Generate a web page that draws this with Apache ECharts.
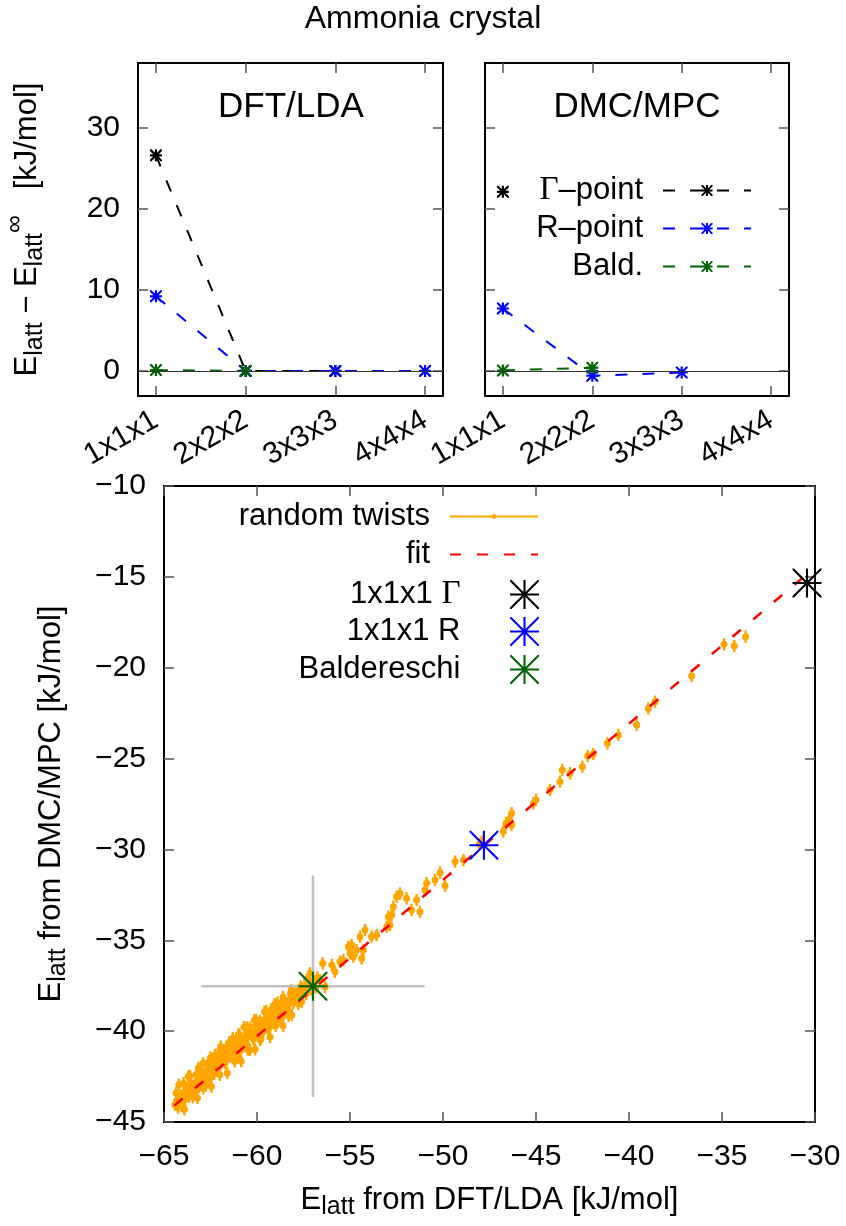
<!DOCTYPE html>
<html>
<head>
<meta charset="utf-8">
<title>Ammonia crystal</title>
<script src="https://cdn.jsdelivr.net/npm/echarts@6/dist/echarts.min.js"></script>
<style>
  html, body { margin: 0; padding: 0; background: #fff; }
  #chart { width: 846px; height: 1226px; }
</style>
</head>
<body>
<div id="chart"></div>
<script>
// Data
// ------------------------------

var cellLabels = ['1x1x1', '2x2x2', '3x3x3', '4x4x4'];
var cellIndex = [1, 2, 3, 4];
var topYTicks = [0, 10, 20, 30];

// E_latt - E_latt(inf), kJ/mol
var ldaGamma = [26.6, 0.0, 0.0];
var ldaR = [9.2, 0.0, 0.0, 0.0];
var ldaBald = [0.1, 0.0];
var mpcGamma = [22.1];
var mpcR = [7.7, -0.6, -0.2];
var mpcBald = [0.05, 0.4];

// bottom panel: [DFT/LDA, DMC/MPC]
var gammaPoint = [-30.43, -15.34];
var rPoint = [-47.8, -29.77];
var baldPoint = [-56.99, -37.53];
var baldError = [6.0, 6.1];
var fitLine = [[-64.45, -44.1], [-30.6, -15.0]];
var twistError = 0.34;
var twistPoints = [
    [-33.73, -18.29], [-34.34, -18.81], [-34.89, -18.71], [-36.63, -20.46], [-38.60, -21.87],
    [-38.96, -22.24], [-39.59, -23.15], [-40.57, -23.70], [-41.16, -24.16], [-41.92, -24.75],
    [-42.22, -24.86], [-42.51, -25.45], [-43.17, -25.81], [-43.59, -25.63], [-43.71, -26.27],
    [-44.25, -26.73], [-45.00, -27.28], [-45.14, -27.46], [-46.31, -28.01], [-46.31, -28.66],
    [-46.61, -28.56], [-46.76, -29.02], [-46.45, -28.35], [-47.92, -29.57], [-48.05, -29.70],
    [-48.90, -30.58], [-49.35, -30.67], [-49.89, -32.00], [-50.16, -31.28], [-50.43, -31.68],
    [-50.88, -31.86], [-50.97, -32.23], [-51.24, -33.43], [-51.42, -32.78], [-51.69, -33.33],
    [-51.96, -32.69], [-52.31, -32.42], [-52.49, -32.60], [-52.67, -33.15], [-52.76, -33.61],
    [-52.85, -34.16], [-52.94, -33.70], [-53.03, -34.25], [-53.57, -34.71], [-53.84, -34.80],
    [-54.19, -34.43], [-54.46, -34.80], [-54.28, -35.54], [-54.37, -36.00], [-54.64, -35.54],
    [-54.91, -35.26], [-55.00, -35.72], [-54.82, -35.90], [-55.09, -35.36], [-55.36, -36.09],
    [-55.54, -36.18], [-55.98, -36.36], [-55.81, -36.73], [-56.47, -36.27], [-56.34, -37.56],
    [-56.61, -37.19], [-57.15, -36.82], [-57.33, -37.19],
    [-64.42, -44.05], [-64.30, -43.80], [-64.25, -44.20], [-64.10, -43.55], [-64.02, -43.95],
    [-63.92, -43.45], [-63.85, -43.75], [-63.72, -43.20], [-63.65, -43.60], [-63.55, -42.95],
    [-63.48, -43.40], [-63.40, -43.05], [-63.30, -42.80], [-63.22, -43.25], [-63.12, -42.55],
    [-63.05, -42.95], [-62.95, -42.40], [-62.88, -43.15], [-62.80, -42.70], [-62.70, -42.20],
    [-62.62, -41.96], [-62.55, -42.60], [-62.48, -42.30], [-62.40, -41.85], [-62.30, -42.35],
    [-62.22, -41.70], [-62.15, -42.05], [-62.05, -41.55], [-61.98, -41.90], [-61.90, -41.68],
    [-61.80, -41.25], [-61.72, -41.75], [-61.63, -41.50], [-61.55, -41.05], [-61.45, -41.40],
    [-61.36, -41.13], [-61.28, -40.75], [-61.18, -40.58], [-61.10, -41.20], [-61.00, -41.41],
    [-60.92, -40.70], [-60.84, -40.95], [-60.74, -40.86], [-60.65, -40.35], [-60.55, -40.75],
    [-60.45, -40.15], [-60.38, -41.04], [-60.29, -39.94], [-60.20, -40.45], [-60.10, -40.05],
    [-60.02, -40.12], [-59.92, -39.75], [-59.84, -40.49], [-59.75, -39.55], [-59.65, -40.00],
    [-59.55, -39.45], [-59.48, -39.39], [-59.40, -39.85], [-59.30, -39.76], [-59.20, -39.15],
    [-59.12, -39.55], [-59.03, -38.93], [-58.95, -39.30], [-58.85, -38.80], [-58.76, -39.39],
    [-58.66, -38.65], [-58.56, -39.05], [-58.48, -38.55], [-58.40, -38.47], [-58.30, -38.90],
    [-58.22, -38.30], [-58.13, -39.11], [-58.05, -38.45], [-57.95, -38.05], [-57.87, -37.92],
    [-57.78, -38.50], [-57.70, -38.15], [-57.60, -38.38], [-57.52, -37.80], [-57.44, -37.55],
    [-57.36, -37.95], [-57.25, -37.40], [-57.10, -37.70], [-56.95, -37.25], [-56.85, -37.60],
    [-56.75, -37.05],
    [-64.18, -43.90], [-63.78, -43.35], [-63.35, -43.45], [-62.98, -42.65], [-62.65, -42.45],
    [-62.35, -42.10], [-62.10, -41.80], [-61.85, -41.45], [-61.58, -41.30], [-61.40, -40.85],
    [-61.05, -40.90], [-60.80, -40.50], [-60.60, -40.60], [-60.25, -40.25], [-59.98, -39.95],
    [-59.70, -39.80], [-59.35, -39.30], [-59.08, -39.05], [-58.80, -39.00], [-58.60, -38.40],
    [-58.35, -38.65], [-58.10, -38.20], [-57.82, -38.25], [-57.58, -37.65], [-57.30, -37.60],
    [-57.05, -37.45],
    [-64.35, -43.41], [-63.95, -42.87], [-63.60, -42.47], [-63.25, -42.37], [-62.90, -41.77],
    [-62.60, -41.71], [-62.25, -41.31], [-61.95, -40.85], [-61.65, -40.89], [-61.30, -40.39],
    [-60.95, -40.19], [-60.70, -39.78], [-60.40, -39.82], [-60.15, -39.40], [-59.85, -39.44],
    [-59.60, -38.93], [-59.25, -38.83], [-58.90, -38.43], [-58.55, -38.33], [-58.20, -37.93],
    [-57.90, -37.87], [-57.65, -37.55],
    [-64.05, -44.11], [-63.45, -43.64], [-62.75, -42.99], [-62.00, -42.40], [-61.20, -41.66],
    [-60.50, -41.01], [-59.80, -40.45], [-59.00, -39.71], [-58.30, -39.16],
    [-63.82, -43.26], [-63.00, -42.40], [-62.45, -41.88], [-61.75, -41.33], [-60.98, -40.62],
    [-60.35, -40.12], [-59.58, -39.41], [-58.98, -38.95], [-58.28, -38.39], [-57.62, -37.73],
    [-64.20, -42.95], [-63.70, -42.50], [-63.15, -42.03], [-62.50, -41.45], [-62.00, -41.05],
    [-61.50, -40.62], [-61.00, -40.20], [-60.55, -39.80], [-60.05, -39.38], [-59.50, -38.90],
    [-59.05, -38.52], [-58.60, -38.12], [-58.15, -37.75],
    [-63.90, -44.30], [-63.20, -43.68], [-62.45, -43.05], [-61.60, -42.30], [-60.85, -41.65],
    [-60.10, -41.00], [-59.30, -40.32], [-58.60, -39.70]
];


// Styles
// ------------------------------

var FONT = "'Liberation Sans', Arial, sans-serif";
var SERIF = "'Liberation Serif', 'DejaVu Serif', serif";
var ORANGE = '#ffa500';
var DARKGREEN = '#006400';
var TICK = { color: '#555', width: 1.5 };

// gnuplot style asterisk (+ and x) as a filled path, h = half thickness in a 100 box
function starPath(h) {
    var k = h * Math.SQRT2, a = 50 - h, b = 50 + h;
    return 'path://' +
        'M0,' + a + 'L100,' + a + 'L100,' + b + 'L0,' + b + 'Z' +
        'M' + a + ',0L' + b + ',0L' + b + ',100L' + a + ',100Z' +
        'M0,0L' + k + ',0L100,' + (100 - k) + 'L100,100L' + (100 - k) + ',100L0,' + k + 'Z' +
        'M100,0L100,' + k + 'L' + k + ',100L0,100L0,' + (100 - k) + 'L' + (100 - k) + ',0Z';
}
var smallStar = starPath(9);
var bigStar = starPath(3.6);

function cellPairs(values) {
    return values.map(function (v, i) { return [cellIndex[i], v]; });
}

function minus(v) {
    return String(v).replace('-', '\u2212');
}


// Axes
// ------------------------------

function topXAxis(grid, position) {
    return {
        type: 'value', gridIndex: grid, position: position, min: 0.8, max: 4.2,
        axisLine: { show: false, onZero: false },
        splitLine: { show: false },
        axisTick: { inside: true, length: 10, customValues: cellIndex, lineStyle: TICK },
        axisLabel: {
            show: position === 'bottom', customValues: cellIndex, rotate: 30, margin: 22,
            fontSize: 30, fontFamily: FONT, color: '#000',
            formatter: function (v) { return cellLabels[v - 1]; }
        }
    };
}

function topYAxis(grid, position, labels) {
    return {
        type: 'value', gridIndex: grid, position: position, min: -3.1, max: 38,
        axisLine: { show: false, onZero: false },
        splitLine: { show: false },
        axisTick: { inside: true, length: 10, customValues: topYTicks, lineStyle: TICK },
        axisLabel: {
            show: labels, customValues: topYTicks, margin: 18,
            fontSize: 30, fontFamily: FONT, color: '#000'
        }
    };
}

function bottomAxis(kind, position, labels) {
    var isX = kind === 'x';
    return {
        type: 'value', gridIndex: 2, position: position,
        min: isX ? -65 : -45, max: isX ? -30 : -10, interval: 5,
        axisLine: { show: false, onZero: false },
        splitLine: { show: false },
        axisTick: { inside: true, length: 10, lineStyle: TICK },
        axisLabel: {
            show: labels, margin: isX ? 20 : 18, showMinLabel: true, showMaxLabel: true,
            fontSize: 30, fontFamily: FONT, color: '#000', formatter: minus
        }
    };
}

// rich text: the line height comes from "n", sub/superscripts hang on the line edges
var nameRich = {
    n: { fontSize: 31, fontFamily: FONT, color: '#000', lineHeight: 40 },
    s: { fontSize: 25, fontFamily: FONT, color: '#000', lineHeight: 25, verticalAlign: 'bottom' }
};
var topNameRich = {
    n: { fontSize: 31, fontFamily: FONT, color: '#000', lineHeight: 56, padding: [12, 0, 0, 0] },
    s: { fontSize: 25, fontFamily: FONT, color: '#000', lineHeight: 25, verticalAlign: 'bottom', padding: [0, 0, 1.5, 0] },
    p: { fontSize: 25, fontFamily: FONT, color: '#000', lineHeight: 25, verticalAlign: 'top', padding: [9.5, 0, 0, 0] }
};

var xAxes = [topXAxis(0, 'bottom'), topXAxis(0, 'top'), topXAxis(1, 'bottom'), topXAxis(1, 'top'),
    bottomAxis('x', 'bottom', true), bottomAxis('x', 'top', false)];
var yAxes = [topYAxis(0, 'left', true), topYAxis(0, 'right', false), topYAxis(1, 'left', false),
    topYAxis(1, 'right', false), bottomAxis('y', 'left', true), bottomAxis('y', 'right', false)];

yAxes[0].name = '{n|E}{s|latt}{n| \u2212 E}{s|latt}{p|\u221e}{n|   [kJ/mol]}';
yAxes[0].nameLocation = 'middle';
yAxes[0].nameGap = 89;
yAxes[0].nameTextStyle = { rich: topNameRich };

xAxes[4].name = '{n|E}{s|latt}{n| from DFT/LDA [kJ/mol]}';
xAxes[4].nameLocation = 'middle';
xAxes[4].nameGap = 58;
xAxes[4].nameTextStyle = { rich: nameRich };

yAxes[4].name = '{n|E}{s|latt}{n| from DMC/MPC [kJ/mol]}';
yAxes[4].nameLocation = 'middle';
yAxes[4].nameGap = 93;
yAxes[4].nameTextStyle = { rich: nameRich };


// Series
// ------------------------------

function stepSeries(name, color, values, axis, dash) {
    return {
        name: name, type: 'line', xAxisIndex: axis, yAxisIndex: axis,
        data: cellPairs(values),
        symbol: smallStar, symbolSize: 12, showAllSymbol: true,
        lineStyle: { color: color, width: 2, type: dash },
        itemStyle: { color: color, borderWidth: 0 }
    };
}

function zeroLine(series) {
    series.markLine = {
        silent: true, symbol: ['none', 'none'], label: { show: false },
        lineStyle: { color: '#333', width: 1.2, type: 'solid' },
        data: [{ yAxis: 0 }]
    };
    return series;
}

function starSeries(name, color, point) {
    return {
        name: name, type: 'scatter', xAxisIndex: 4, yAxisIndex: 4,
        data: [point], symbol: bigStar, symbolSize: 29, symbolKeepAspect: true,
        itemStyle: { color: color, opacity: 1 }, z: 5
    };
}

var series = [
    stepSeries('\u0393-point', '#000', ldaGamma, 0, [12, 15]),
    stepSeries('R-point', '#0000ff', ldaR, 0, [12, 15]),
    zeroLine(stepSeries('Bald.', DARKGREEN, ldaBald, 0, [12, 15])),
    stepSeries('\u0393-point', '#000', mpcGamma, 2, [12, 15]),
    stepSeries('R-point', '#0000ff', mpcR, 2, [12, 15]),
    zeroLine(stepSeries('Bald.', DARKGREEN, mpcBald, 2, [12, 15])),
    {
        type: 'custom', xAxisIndex: 4, yAxisIndex: 4, data: twistPoints,
        encode: { x: 0, y: 1 },
        renderItem: function (params, api) {
            var x = api.value(0), y = api.value(1);
            var p1 = api.coord([x, y - twistError]);
            var p2 = api.coord([x, y + twistError]);
            return {
                type: 'line',
                shape: { x1: p1[0], y1: p1[1], x2: p2[0], y2: p2[1] },
                style: { stroke: ORANGE, lineWidth: 2.4 }
            };
        }
    },
    {
        name: 'random twists', type: 'line', xAxisIndex: 4, yAxisIndex: 4, data: twistPoints,
        symbol: 'circle', symbolSize: 7, showAllSymbol: true,
        lineStyle: { opacity: 0, color: ORANGE },
        itemStyle: { color: ORANGE, borderWidth: 0 }
    },
    {
        type: 'custom', xAxisIndex: 4, yAxisIndex: 4,
        data: [[baldPoint[0], baldPoint[1], baldError[0], baldError[1]]],
        encode: { x: 0, y: 1 },
        renderItem: function (params, api) {
            var x = api.value(0), y = api.value(1), ex = api.value(2), ey = api.value(3);
            var l = api.coord([x - ex, y]), r = api.coord([x + ex, y]);
            var t = api.coord([x, y + ey]), b = api.coord([x, y - ey]);
            var style = { stroke: '#c0c0c0', lineWidth: 2.5 };
            return {
                type: 'group', children: [
                    { type: 'line', shape: { x1: l[0], y1: l[1], x2: r[0], y2: r[1] }, style: style },
                    { type: 'line', shape: { x1: t[0], y1: t[1], x2: b[0], y2: b[1] }, style: style }
                ]
            };
        }
    },
    {
        name: 'fit', type: 'line', xAxisIndex: 4, yAxisIndex: 4, data: fitLine,
        symbol: 'none', z: 4,
        lineStyle: { color: '#ff0000', width: 2.5, type: [11, 16] },
        itemStyle: { color: '#ff0000' }
    },
    starSeries('1x1x1 \u0393', '#000', gammaPoint),
    starSeries('1x1x1 R', '#0000ff', rPoint),
    starSeries('Baldereschi', DARKGREEN, baldPoint)
];


// Legends (one component per row so icons line up on the right)
// ------------------------------

var legendText = {
    '\u0393-point': '{g|\u0393}{t|\u2013point}',
    'R-point': '{t|R\u2013point}',
    'Bald.': '{t|Bald.}',
    'random twists': '{t|random twists}',
    'fit': '{t|fit}',
    '1x1x1 \u0393': '{t|1x1x1 }{g|\u0393}',
    '1x1x1 R': '{t|1x1x1 R}',
    'Baldereschi': '{t|Baldereschi}'
};

function legendRow(name, right, centerY, itemHeight, extra) {
    var leg = {
        data: [name], orient: 'horizontal', align: 'right', right: right, top: centerY - 14,
        padding: 0, itemGap: 0, itemWidth: 88, itemHeight: itemHeight, selectedMode: false,
        formatter: function (n) { return legendText[n] + '{e| }'; },
        textStyle: {
            color: '#000',
            rich: {
                t: { fontSize: 31, fontFamily: FONT, color: '#000', lineHeight: 34 },
                g: { fontSize: 33, fontFamily: SERIF, color: '#000', lineHeight: 34 },
                e: { width: 15, fontSize: 31, lineHeight: 34 }
            }
        }
    };
    for (var key in extra) { leg[key] = extra[key]; }
    return leg;
}

var legends = [
    legendRow('\u0393-point', 94, 188, 14, {}),
    legendRow('R-point', 94, 227, 14, {}),
    legendRow('Bald.', 94, 265, 14, {}),
    legendRow('random twists', 307, 515, 6, {
        lineStyle: { color: ORANGE, opacity: 1, width: 2, type: 'solid' }
    }),
    legendRow('fit', 307, 553, 6, { itemStyle: { opacity: 0 } }),
    legendRow('1x1x1 \u0393', 307, 592, 29, {}),
    legendRow('1x1x1 R', 307, 630, 29, {}),
    legendRow('Baldereschi', 307, 668, 29, {})
];


// Chart
// ------------------------------

var chart = echarts.init(document.getElementById('chart'), null, { renderer: 'canvas' });

var gridBase = { show: true, borderColor: '#000', borderWidth: 2, backgroundColor: 'transparent', outerBoundsMode: 'none', containLabel: false };

chart.setOption({
    animation: false,
    backgroundColor: '#fff',
    textStyle: { fontFamily: FONT },
    graphic: [
        { type: 'text', x: 423, y: 19, style: { text: 'Ammonia crystal', font: '32px ' + FONT, fill: '#000', align: 'center', verticalAlign: 'middle' } },
        { type: 'text', x: 291, y: 107, z: 10, style: { text: 'DFT/LDA', font: '35px ' + FONT, fill: '#000', align: 'center', verticalAlign: 'middle' } },
        { type: 'text', x: 637, y: 107, z: 10, style: { text: 'DMC/MPC', font: '35px ' + FONT, fill: '#000', align: 'center', verticalAlign: 'middle' } }
    ],
    grid: [
        Object.assign({ left: 138, top: 63, width: 305, height: 333 }, gridBase),
        Object.assign({ left: 485, top: 63, width: 304, height: 333 }, gridBase),
        Object.assign({ left: 164, top: 486, width: 651, height: 636 }, gridBase)
    ],
    xAxis: xAxes,
    yAxis: yAxes,
    legend: legends,
    series: series
});
</script>
</body>
</html>
